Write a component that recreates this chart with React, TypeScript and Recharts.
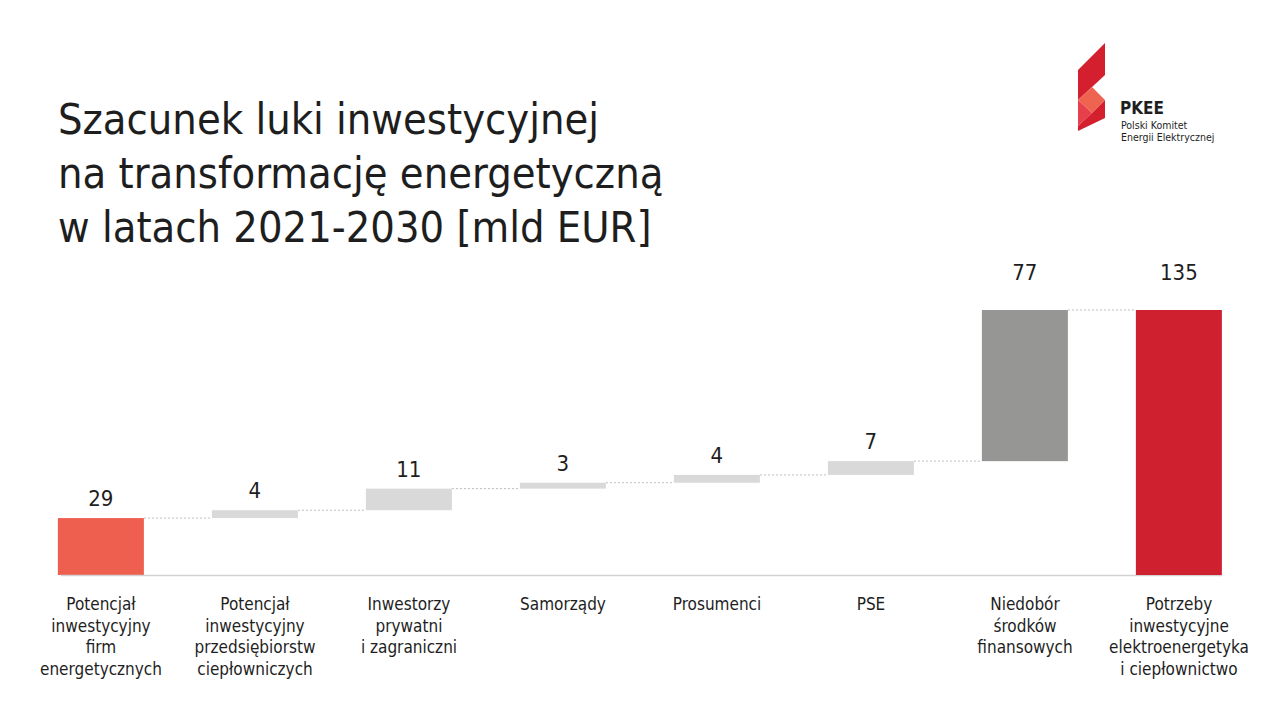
import { BarChart, Bar, XAxis, YAxis, LabelList, Cell } from 'recharts';

// Etykiety kategorii (wiersze rozdzielone \n)
const categories = [
  'Potencjał\ninwestycyjny\nfirm\nenergetycznych',
  'Potencjał\ninwestycyjny\nprzedsiębiorstw\nciepłowniczych',
  'Inwestorzy\nprywatni\ni zagraniczni',
  'Samorządy',
  'Prosumenci',
  'PSE',
  'Niedobór\nśrodków\nfinansowych',
  'Potrzeby\ninwestycyjne\nelektroenergetyka\ni ciepłownictwo',
];

// wartości [mld EUR]
const values = [29, 4, 11, 3, 4, 7, 77, 135];

// typ słupka: start / przyrost / luka / suma
const kinds = ['start', 'step', 'step', 'step', 'step', 'step', 'gap', 'total'];

const colors: Record<string, string> = {
  start: '#ef5f4f',
  step: '#d9d9d9',
  gap: '#969695',
  total: '#cf2030',
};

const FONT = '"Liberation Sans Narrow", "DejaVu Sans Condensed", Roboto, sans-serif';
const GAP = 0.22;

// podstawa każdego słupka w wykresie kaskadowym
let running = 0;
const data = values.map((v, i) => {
  const kind = kinds[i];
  const base = kind === 'start' || kind === 'total' ? 0 : running;
  running = kind === 'total' ? v : base + v;
  return { name: categories[i], base, value: v, kind };
});

const WaterfallBar = (props: any) => {
  const { x, y, width, height, index, fill } = props;
  const band = width / (1 - 2 * GAP);
  const gapPx = band - width;
  const last = index === data.length - 1;
  return (
    <g>
      {/* linia bazowa od pierwszego do ostatniego słupka */}
      {last && (
        <line
          x1={x - (data.length - 1) * band}
          x2={x + width}
          y1={y + height + 0.5}
          y2={y + height + 0.5}
          stroke="#d2d2d2"
          strokeWidth={1.5}
        />
      )}
      <rect x={x} y={y} width={width} height={height} fill={fill} />
      {!last && (
        <line
          x1={x + width}
          x2={x + width + gapPx}
          y1={y}
          y2={y}
          stroke="#bdbdbd"
          strokeWidth={1}
          strokeDasharray="2 2"
        />
      )}
    </g>
  );
};

const ValueLabel = (props: any) => {
  const { x, y, width, value, index } = props;
  const big = data[index].kind === 'gap' || data[index].kind === 'total';
  return (
    <text
      x={x + width / 2}
      y={y - (big ? 30 : 12)}
      textAnchor="middle"
      fill="#1e1e1e"
      fontSize={22}
      fontFamily={FONT}
    >
      {value}
    </text>
  );
};

const CategoryTick = (props: any) => {
  const { x, y, payload } = props;
  const lines = String(payload.value).split('\n');
  return (
    <text x={x} y={y} textAnchor="middle" fill="#1e1e1e" fontSize={17} fontFamily={FONT}>
      {lines.map((l, i) => (
        <tspan key={i} x={x} dy={i === 0 ? 27 : 21.5}>
          {l}
        </tspan>
      ))}
    </text>
  );
};

function Logo() {
  return (
    <svg width={1280} height={720} style={{ position: 'absolute', left: 0, top: 0 }}>
      <polygon points="1105,43 1105,75 1078,100 1078,70" fill="#d41f2f" />
      <polygon points="1078,100 1092,87 1105,100 1092,113" fill="#ef6351" />
      <polygon points="1078,100 1092,113 1078,126" fill="#e8404a" />
      <polygon points="1105,100 1105,118 1078,131 1078,126 1092,113" fill="#d41f2f" />
      <text x={1120} y={114} fontFamily={FONT} fontWeight={700} fontSize={17} fill="#1e1e1e">
        PKEE
      </text>
      <text x={1121} y={129} fontFamily={FONT} fontSize={10.5} fill="#1e1e1e">
        Polski Komitet
      </text>
      <text x={1121} y={141} fontFamily={FONT} fontSize={10.5} fill="#1e1e1e">
        Energii Elektrycznej
      </text>
    </svg>
  );
}

export default function App() {
  return (
    <div style={{ position: 'relative', width: 1280, height: 720, margin: -8, background: '#fff', overflow: 'hidden' }}>
      <BarChart
        width={1280}
        height={720}
        data={data}
        margin={{ top: 310, right: 24, bottom: 0, left: 24 }}
        barCategoryGap={`${GAP * 100}%`}
      >
        <XAxis
          dataKey="name"
          interval={0}
          tickLine={false}
          axisLine={false}
          tick={<CategoryTick />}
          height={145}
        />
        <YAxis hide domain={[0, 135]} />
        <Bar dataKey="base" stackId="w" fill="transparent" isAnimationActive={false} />
        <Bar dataKey="value" stackId="w" shape={<WaterfallBar />} isAnimationActive={false}>
          {data.map((d, i) => (
            <Cell key={i} fill={colors[d.kind]} />
          ))}
          <LabelList dataKey="value" content={<ValueLabel />} />
        </Bar>
      </BarChart>
      <div
        style={{
          position: 'absolute',
          left: 58,
          top: 92,
          fontFamily: FONT,
          fontSize: 43,
          lineHeight: '54px',
          color: '#1e1e1e',
          whiteSpace: 'nowrap',
        }}
      >
        Szacunek luki inwestycyjnej
        <br />
        na transformację energetyczną
        <br />
        w latach 2021-2030 [mld EUR]
      </div>
      <Logo />
    </div>
  );
}
